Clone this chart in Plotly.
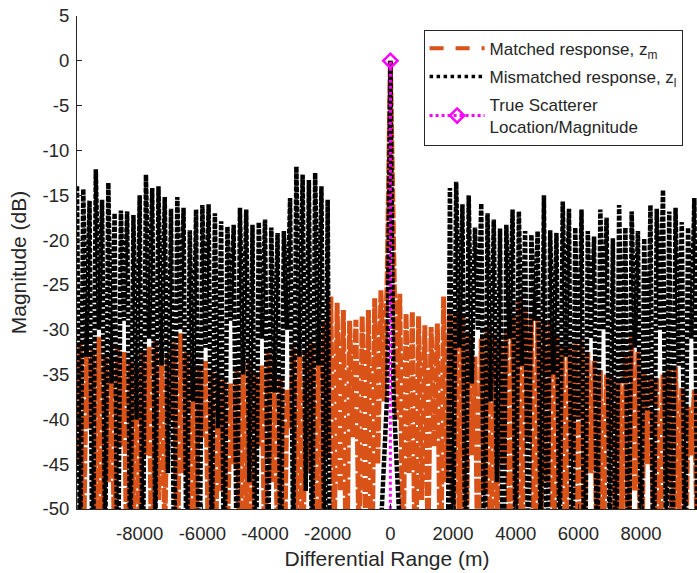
import numpy as np
import plotly.graph_objects as go

# Differential range sample grid (m)
range_m = np.arange(-10000, 9801, 100)

# Matched response z_m (dB), one value per range sample
matched_db = [
    -45, -31.4, -58, -32.0, -41, -32.2, -52, -30.8, -62, -33.0,
    -47, -33.2, -55, -32.0, -43, -32.5, -60, -33.5, -50, -33.8,
    -57, -32.5, -44, -31.9, -64, -31.2, -49, -32.6, -53, -32.6,
    -40, -31.5, -59, -30.4, -46, -32.5, -61, -34.0, -51, -34.0,
    -42, -33.5, -56, -34.5, -63, -35.0, -48, -35.5, -54, -36.0,
    -45, -34.5, -60, -33.6, -52, -33.6, -66, -35.0, -43, -34.0,
    -58, -32.3, -47, -33.5, -55, -35.5, -62, -36.7, -41, -32.0,
    -53, -32.4, -59, -32.4, -46, -31.5, -64, -30.5, -50, -29.0,
    -44, -26.3, -57, -27.0, -48, -27.8, -61, -29.0, -42, -28.9,
    -55, -28.5, -50, -27.8, -63, -26.5, -45, -25.6, -38, -24.0,
    0, -24.5, -40, -26.0, -58, -28.2, -46, -28.0, -62, -28.5,
    -49, -29.5, -54, -29.7, -43, -29.3, -60, -26.3, -47, -28.0,
    -56, -28.0, -51, -28.5, -65, -30.5, -44, -33.0, -59, -31.0,
    -48, -29.7, -62, -30.5, -53, -31.2, -45, -30.0, -60, -28.5,
    -50, -26.7, -57, -27.5, -42, -28.5, -63, -28.9, -54, -29.0,
    -47, -29.3, -61, -30.5, -49, -31.9, -58, -32.0, -44, -31.5,
    -66, -31.2, -52, -32.5, -46, -33.5, -59, -34.5, -55, -35.0,
    -43, -35.5, -62, -35.6, -50, -33.0, -57, -30.4, -48, -32.5,
    -64, -34.8, -45, -35.0, -53, -35.3, -60, -35.0, -47, -34.5,
    -58, -34.1, -51, -36.5, -63, -38.6, -44, -36.7, -56,
]

# Mismatched response z_l (dB)
mismatched_db = [
    -14.0, -58, -14.3, -33, -15.6, -62, -12.1, -30, -15.5, -55,
    -13.6, -36, -17.0, -66, -16.7, -29, -16.8, -57, -17.2, -40,
    -15.0, -60, -12.7, -31, -14.2, -53, -14.0, -34, -15.2, -46,
    -16.5, -58, -15.2, -30, -16.4, -61, -18.9, -38, -16.6, -68,
    -16.1, -32, -16.0, -56, -17.0, -41, -17.9, -63, -18.5, -29,
    -18.3, -59, -16.4, -35, -16.6, -47, -18.3, -65, -18.0, -31,
    -17.7, -57, -18.6, -37, -19.2, -60, -19.0, -30, -15.3, -55,
    -11.8, -33, -12.7, -48, -13.3, -58, -12.5, -34, -14.0, -60,
    -15.5, -80, -80, -80, -80, -80, -80, -80, -80, -80,
    -80, -80, -80, -80, -80, -80, -80, -52, -45, -37,
    0, -37, -45, -52, -80, -80, -80, -80, -80, -80,
    -80, -80, -80, -80, -80, -80, -80, -80, -80, -14.2,
    -56, -13.5, -32, -16.0, -61, -15.0, -36, -18.6, -30, -15.9,
    -63, -17.0, -38, -17.7, -47, -18.7, -66, -18.3, -31, -16.6,
    -58, -16.8, -34, -19.0, -60, -19.4, -29, -19.0, -55, -15.0,
    -64, -18.9, -35, -19.2, -57, -15.7, -33, -16.5, -62, -18.6,
    -40, -16.6, -67, -19.0, -31, -19.6, -59, -16.6, -30, -17.5,
    -54, -19.8, -61, -16.1, -36, -18.6, -65, -16.8, -32, -19.0,
    -57, -19.8, -39, -16.1, -63, -16.5, -30, -14.4, -56, -16.8,
    -60, -16.4, -34, -18.0, -58, -18.6, -31, -15.3, -55,
]

# True scatterer location / magnitude
true_x = [0, 0]
true_y = [-60, 0]

x_ticks = [-8000, -6000, -4000, -2000, 0, 2000, 4000, 6000, 8000]
x_labels = ["-8000", "-6000", "-4000", "-2000", "0", "2000", "4000", "6000", "8000"]
y_ticks = [-50, -45, -40, -35, -30, -25, -20, -15, -10, -5, 0, 5]
y_labels = ["-50", "-45", "-40", "-35", "-30", "-25", "-20", "-15", "-10", "-5", "0", "5"]

FONT = "Liberation Sans, Arial, sans-serif"
AX = "#262626"
ORANGE = "#D95319"
MAGENTA = "#FF00FF"

fig = go.Figure()
# data traces (dense lines)
fig.add_trace(go.Scatter(
    x=range_m, y=matched_db, mode="lines",
    line=dict(color=ORANGE, width=5, dash="14px,2px"),
    showlegend=False, hoverinfo="skip",
))
fig.add_trace(go.Scatter(
    x=range_m, y=mismatched_db, mode="lines",
    line=dict(color="black", width=4.5, dash="5px,1.5px"),
    showlegend=False, hoverinfo="skip",
))
# legend entries
fig.add_trace(go.Scatter(
    x=[None], y=[None], mode="lines",
    line=dict(color=ORANGE, width=4, dash="14px,12px"),
    name="Matched response, z<sub>m</sub>", legendgroup="a",
))
fig.add_trace(go.Scatter(
    x=[None], y=[None], mode="lines",
    line=dict(color="black", width=3.5, dash="dot"),
    name="Mismatched response, z<sub>l</sub>", legendgroup="b",
))
fig.add_trace(go.Scatter(
    x=true_x, y=true_y, mode="lines+markers",
    line=dict(color=MAGENTA, width=3, dash="dot"),
    marker=dict(symbol="diamond-open", size=11, color=MAGENTA,
                line=dict(width=2.5, color=MAGENTA)),
    name="True Scatterer<br>Location/Magnitude", legendgroup="c",
))

fig.update_layout(
    width=697, height=573,
    margin=dict(l=77, r=0, t=16, b=64),
    paper_bgcolor="white", plot_bgcolor="white",
    font=dict(family=FONT, color=AX),
    showlegend=True,
    legend=dict(
        x=0.559, y=0.972, xanchor="left", yanchor="top",
        bgcolor="white", bordercolor=AX, borderwidth=1,
        font=dict(family=FONT, size=17, color=AX),
        itemwidth=55, tracegroupgap=3,
    ),
    xaxis=dict(
        range=[-10000, 9785], tickvals=x_ticks, ticktext=x_labels,
        ticks="inside", ticklen=5, tickcolor=AX,
        showline=True, linecolor=AX, linewidth=1, mirror=False,
        showgrid=False, zeroline=False, ticklabelstandoff=8,
        tickfont=dict(family=FONT, size=18.5, color=AX),
        title=dict(text="Differential Range (m)", font=dict(family=FONT, size=21, color=AX), standoff=8),
    ),
    yaxis=dict(
        range=[-50, 5], tickvals=y_ticks, ticktext=y_labels,
        ticks="inside", ticklen=5, tickcolor=AX,
        showline=True, linecolor=AX, linewidth=1, mirror=False,
        showgrid=False, zeroline=False, ticklabelstandoff=3,
        tickfont=dict(family=FONT, size=18.5, color=AX),
        title=dict(text="Magnitude (dB)", font=dict(family=FONT, size=21, color=AX), standoff=10),
    ),
)

fig.write_html("out.html")
